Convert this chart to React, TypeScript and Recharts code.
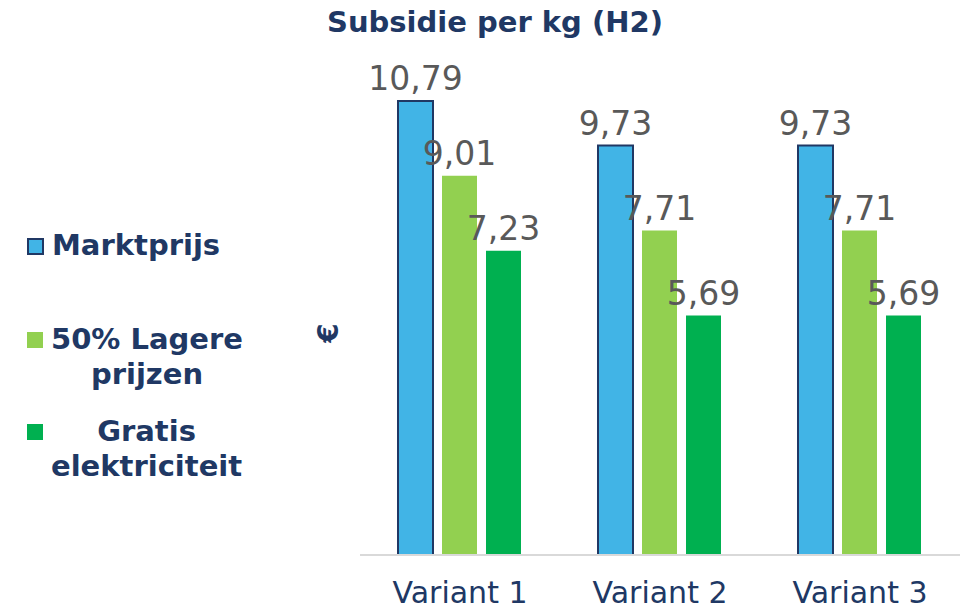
import { BarChart, Bar, XAxis, YAxis, LabelList } from 'recharts';

const categories = ['Variant 1', 'Variant 2', 'Variant 3'];
const marktprijs = [10.79, 9.73, 9.73];
const lagerePrijzen = [9.01, 7.71, 7.71];
const gratisElektriciteit = [7.23, 5.69, 5.69];

const data = categories.map((name, i) => ({
  name,
  marktprijs: marktprijs[i],
  lagere: lagerePrijzen[i],
  gratis: gratisElektriciteit[i],
}));

const navy = '#203864';
const font = '"DejaVu Sans", Verdana, sans-serif';

const fmt = (v: any) => String(Number(v).toFixed(2)).replace('.', ',');

const legendItems = [
  { lines: ['Marktprijs'], color: '#41B4E6', border: true, top: 228 },
  { lines: ['50% Lagere', 'prijzen'], color: '#92D050', border: false, top: 322 },
  { lines: ['Gratis', 'elektriciteit'], color: '#00B050', border: false, top: 414 },
];

export default function App() {
  return (
    <div style={{ position: 'absolute', left: 0, top: 0, width: 966, height: 609, background: '#fff', fontFamily: font }}>
      <div style={{ position: 'absolute', left: 0, width: 990, top: 5, textAlign: 'center', fontSize: 29, fontWeight: 'bold', color: navy }}>
        Subsidie per kg (H2)
      </div>

      {legendItems.map((it) => (
        <div key={it.lines[0]} style={{ position: 'absolute', left: 27, top: it.top, display: 'flex', alignItems: 'flex-start' }}>
          <div style={{
            width: it.border ? 13 : 16, height: it.border ? 13 : 16, marginTop: 10,
            background: it.color, border: it.border ? `2px solid ${navy}` : 'none', marginRight: 8, flexShrink: 0,
          }} />
          <div style={{ fontSize: 29, fontWeight: 'bold', color: navy, lineHeight: '35px', textAlign: 'center' }}>
            {it.lines.map((l) => <div key={l}>{l}</div>)}
          </div>
        </div>
      ))}

      <div style={{
        position: 'absolute', left: 314, top: 318, width: 30, height: 30, fontSize: 28, fontWeight: 'bold',
        color: navy, transform: 'rotate(-90deg)', textAlign: 'center', lineHeight: '30px',
      }}>€</div>

      <div style={{ position: 'absolute', left: 0, top: 0 }}>
        <BarChart
          width={966}
          height={609}
          data={data}
          margin={{ top: 50, right: 6, left: 360, bottom: 24 }}
          barCategoryGap={38}
          barGap={9}
        >
          <XAxis
            dataKey="name"
            height={30}
            axisLine={{ stroke: '#D9D9D9', strokeWidth: 2 }}
            tickLine={false}
            tick={{ fill: navy, fontSize: 30, fontFamily: font, dy: 19 }}
          />
          <YAxis hide domain={[0, 12]} />
          <Bar dataKey="marktprijs" fill="#41B4E6" stroke={navy} strokeWidth={2} isAnimationActive={false}>
            <LabelList dataKey="marktprijs" position="top" offset={11} formatter={fmt} fill="#595959" fontSize={33} fontFamily={font} />
          </Bar>
          <Bar dataKey="lagere" fill="#92D050" isAnimationActive={false}>
            <LabelList dataKey="lagere" position="top" offset={11} formatter={fmt} fill="#595959" fontSize={33} fontFamily={font} />
          </Bar>
          <Bar dataKey="gratis" fill="#00B050" isAnimationActive={false}>
            <LabelList dataKey="gratis" position="top" offset={11} formatter={fmt} fill="#595959" fontSize={33} fontFamily={font} />
          </Bar>
        </BarChart>
      </div>
    </div>
  );
}
